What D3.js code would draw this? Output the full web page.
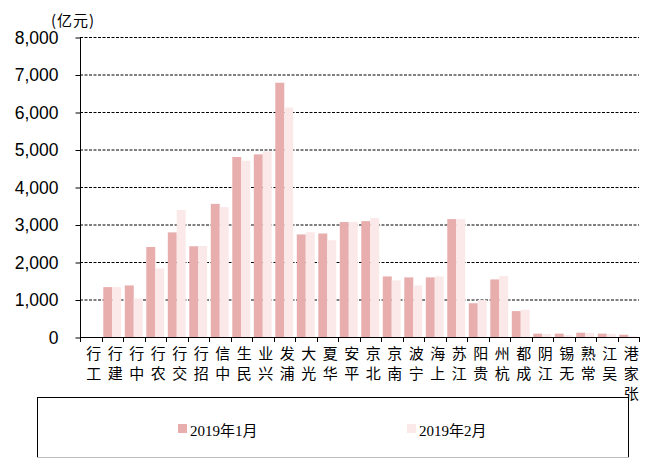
<!DOCTYPE html>
<html>
<head>
<meta charset="utf-8">
<script src="https://cdn.jsdelivr.net/npm/d3@7"></script>
<style>
  body { margin: 0; background: #fff; }
  svg { display: block; }
</style>
</head>
<body>
<div id="chart"></div>
<script>
var categories = ["工行","建行","中行","农行","交行","招行","中信","民生","兴业","浦发","光大","华夏","平安","北京","南京","宁波","上海","江苏","贵阳","杭州","成都","江阴","无锡","常熟","吴江","张家港"];
var jan2019 = [0,1330,1375,2400,2790,2420,3550,4800,4870,6780,2735,2760,3065,3090,1615,1590,1590,3145,900,1535,690,90,90,115,90,60];
var feb2019 = [0,1330,1025,1830,3390,2425,3465,4700,4950,6120,2795,2580,3065,3170,1510,1375,1615,3140,985,1625,725,80,50,110,75,20];
var seriesNames = ["2019年1月","2019年2月"];
var yTicks = [0,1000,2000,3000,4000,5000,6000,7000,8000];

var width = 648, height = 459;
var plotL = 80, plotR = 639, plotT = 37, plotB = 337;
var colors = ["#e8adad", "#fbe9e9"];

var svg = d3.select("#chart").append("svg")
    .attr("width", width)
    .attr("height", height);

var x0 = d3.scaleBand().domain(categories).range([plotL, plotR]).padding(0);
var x1 = d3.scaleBand().domain([0, 1]).range([0, x0.bandwidth()])
    .paddingInner(0).paddingOuter(0.2);
var y = d3.scaleLinear().domain([0, 8000]).range([plotB, plotT]);

// dashed gridlines
svg.append("g").selectAll("line")
    .data(yTicks.slice(1))
    .enter().append("line")
    .attr("x1", plotL).attr("x2", plotR)
    .attr("y1", function(d) { return y(d) + 0.5; })
    .attr("y2", function(d) { return y(d) + 0.5; })
    .attr("stroke", "#000")
    .attr("stroke-width", 1)
    .attr("stroke-dasharray", "3,1.5");

// bars
var rows = categories.map(function(c, i) { return {cat: c, vals: [jan2019[i], feb2019[i]]}; });
var grp = svg.append("g").selectAll("g")
    .data(rows)
    .enter().append("g")
    .attr("transform", function(d) { return "translate(" + x0(d.cat) + ",0)"; });
grp.selectAll("rect")
    .data(function(d) { return d.vals; })
    .enter().append("rect")
    .attr("x", function(d, i) { return x1(i); })
    .attr("width", x1.bandwidth())
    .attr("y", function(d) { return y(d); })
    .attr("height", function(d) { return plotB - y(d); })
    .attr("fill", function(d, i) { return colors[i]; });

// y axis
var yAxis = svg.append("g")
    .attr("transform", "translate(" + (plotL + 0.5) + ",0.5)")
    .call(d3.axisLeft(y).tickValues(yTicks).tickSize(5).tickPadding(17).tickFormat(d3.format(",")));
yAxis.select(".domain").attr("d", "M0," + plotT + "V" + plotB).attr("stroke", "#000");
yAxis.selectAll(".tick line").attr("stroke", "#000");
yAxis.selectAll("text")
    .attr("font-family", "'Liberation Sans Narrow', 'Liberation Sans', Arial, sans-serif")
    .attr("font-size", "17.5px")
    .attr("fill", "#000");

// x axis line and ticks at category edges
svg.append("line")
    .attr("x1", plotL).attr("x2", plotR)
    .attr("y1", plotB + 0.5).attr("y2", plotB + 0.5)
    .attr("stroke", "#000");
var edges = categories.map(function(c) { return x0(c); }).concat([plotR]);
svg.append("g").selectAll("line")
    .data(edges)
    .enter().append("line")
    .attr("x1", function(d) { return Math.round(d) + 0.5; })
    .attr("x2", function(d) { return Math.round(d) + 0.5; })
    .attr("y1", plotB).attr("y2", plotB + 5)
    .attr("stroke", "#000");

// vertical category labels, read bottom to top
var lab = svg.append("g").selectAll("g")
    .data(categories)
    .enter().append("g")
    .attr("transform", function(d) { return "translate(" + (x0(d) + x0.bandwidth() / 2 + 3) + ",0)"; });
lab.selectAll("text")
    .data(function(d) { return d.split("").reverse(); })
    .enter().append("text")
    .attr("x", 0)
    .attr("y", function(d, i) { return 352 + i * 20; })
    .attr("text-anchor", "middle")
    .attr("dominant-baseline", "central")
    .attr("font-family", "'Noto Sans CJK SC', sans-serif")
    .attr("font-size", "15px")
    .attr("fill", "#000")
    .text(function(d) { return d; });

// unit label
svg.append("text")
    .attr("x", 73).attr("y", 19)
    .attr("text-anchor", "middle")
    .attr("dominant-baseline", "central")
    .attr("font-family", "'Noto Sans CJK SC', sans-serif")
    .attr("font-size", "15px")
    .attr("letter-spacing", "1px")
    .attr("fill", "#000")
    .text("(亿元)");

// legend box
svg.append("rect")
    .attr("x", 37.5).attr("y", 397.5)
    .attr("width", 591).attr("height", 60)
    .attr("fill", "#fff")
    .attr("stroke", "#000");
svg.append("line")
    .attr("x1", 37).attr("x2", 629)
    .attr("y1", 457.5).attr("y2", 457.5)
    .attr("stroke", "#bbb");

var legendX = [178, 407];
var leg = svg.append("g").selectAll("g")
    .data(seriesNames)
    .enter().append("g")
    .attr("transform", function(d, i) { return "translate(" + legendX[i] + ",424)"; });
leg.append("rect")
    .attr("width", 9).attr("height", 9)
    .attr("fill", function(d, i) { return colors[i]; });
leg.append("text")
    .attr("x", 12).attr("y", 12)
    .attr("font-family", "'Liberation Serif', 'Times New Roman', 'Noto Sans CJK SC', serif")
    .attr("font-size", "15px")
    .attr("fill", "#000")
    .text(function(d) { return d; });
</script>
</body>
</html>
